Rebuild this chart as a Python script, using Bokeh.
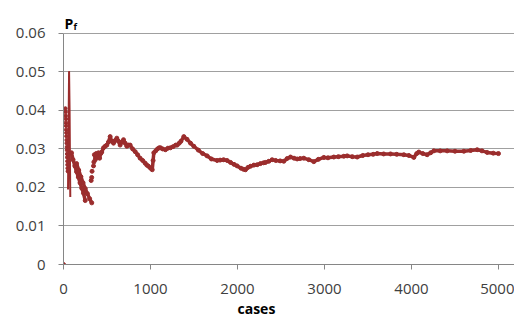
from bokeh.plotting import figure
from bokeh.models import Range1d, FixedTicker, Title, CustomJSTickFormatter
from bokeh.core.properties import value
from bokeh.embed import file_html
from bokeh.resources import INLINE

# ---- data ----
origin_cases = [0]
origin_pf = [0.0]

# early column of dots
col_cases = [22, 24, 25, 27, 28, 30, 31, 33, 34, 36, 37, 39, 40, 42, 43, 45, 46, 48, 50]
col_pf = [0.0405, 0.0396, 0.0386, 0.0378, 0.0368, 0.0360, 0.0350, 0.0342, 0.0333, 0.0323,
          0.0315, 0.0305, 0.0297, 0.0287, 0.0278, 0.0268, 0.0259, 0.0250, 0.0242]

# spike to 0.05
spike_cases = [52, 64, 70, 74, 78]
spike_pf = [0.0195, 0.0502, 0.040, 0.028, 0.0175]

# descending branch B
b_cases = [92, 110, 130, 150, 170, 190, 210, 230, 250]
b_pf = [0.0290, 0.0272, 0.0256, 0.0241, 0.0227, 0.0212, 0.0198, 0.0185, 0.0166]

# descending branch C
c_cases = [150, 175, 200, 225, 250, 275, 300, 325]
c_pf = [0.0262, 0.0245, 0.0228, 0.0212, 0.0197, 0.0184, 0.0171, 0.0160]

# isolated dots after the low point
iso_cases = [318, 324, 328, 345, 349]
iso_pf = [0.0218, 0.0226, 0.0242, 0.0256, 0.0266]

# main running estimate
main_cases = [355, 365, 375, 390, 402, 415, 428, 440, 460, 479, 498, 517, 536, 555, 575,
              594, 613, 632, 651, 670, 690, 709, 728, 747, 766, 795, 824, 852, 881, 910,
              939, 958, 977, 1000, 1020, 1030, 1038, 1060, 1080, 1100, 1115, 1140, 1172,
              1200, 1230, 1260, 1290, 1307, 1330, 1350, 1383, 1420, 1460, 1498, 1550,
              1600, 1651, 1700, 1766, 1800, 1840, 1881, 1920, 1960, 1996, 2040, 2070,
              2092, 2120, 2149, 2188, 2226, 2264, 2300, 2322, 2360, 2398, 2440, 2490,
              2532, 2570, 2609, 2650, 2686, 2720, 2762, 2820, 2877, 2930, 2992, 3040,
              3107, 3160, 3222, 3261, 3320, 3376, 3440, 3500, 3560, 3606, 3680, 3759,
              3830, 3912, 3970, 4027, 4060, 4084, 4130, 4180, 4220, 4257, 4330, 4410,
              4500, 4602, 4680, 4755, 4810, 4870, 4940, 5000]
main_pf = [0.0285, 0.0272, 0.0288, 0.0278, 0.0290, 0.0276, 0.0288, 0.0292, 0.0303, 0.0307,
           0.0310, 0.0318, 0.0332, 0.0320, 0.0315, 0.0322, 0.0328, 0.0320, 0.0310, 0.0318,
           0.0324, 0.0315, 0.0307, 0.0310, 0.0310, 0.0300, 0.0293, 0.0285, 0.0276, 0.0270,
           0.0263, 0.0258, 0.0255, 0.0250, 0.0246, 0.0270, 0.0290, 0.0295, 0.0300, 0.0303,
           0.0303, 0.0300, 0.0298, 0.0302, 0.0303, 0.0306, 0.0310, 0.0310, 0.0315, 0.0320,
           0.0332, 0.0325, 0.0315, 0.0307, 0.0297, 0.0288, 0.0282, 0.0274, 0.0270, 0.0271,
           0.0272, 0.0270, 0.0265, 0.0260, 0.0256, 0.0250, 0.0247, 0.0246, 0.0252, 0.0255,
           0.0258, 0.0259, 0.0262, 0.0264, 0.0265, 0.0268, 0.0272, 0.0270, 0.0269, 0.0268,
           0.0275, 0.0279, 0.0276, 0.0274, 0.0275, 0.0276, 0.0272, 0.0267, 0.0273, 0.0278,
           0.0277, 0.0279, 0.0280, 0.0281, 0.0282, 0.0280, 0.0279, 0.0283, 0.0285, 0.0286,
           0.0288, 0.0287, 0.0287, 0.0286, 0.0285, 0.0283, 0.0278, 0.0288, 0.0292, 0.0288,
           0.0285, 0.0290, 0.0295, 0.0295, 0.0295, 0.0294, 0.0294, 0.0296, 0.0298, 0.0295,
           0.0291, 0.0289, 0.0288]

x_ticks = [0, 1000, 2000, 3000, 4000, 5000]
y_ticks = [0, 0.01, 0.02, 0.03, 0.04, 0.05, 0.06]
y_max = 0.06

RED = "#9b2d2d"
FONT = "Open Sans"
TXT = "#404040"

p = figure(width=514, height=321, output_backend="svg", toolbar_location=None,
           x_range=Range1d(0, 5184), y_range=Range1d(0, 0.06724),
           min_border_left=63, min_border_right=0, min_border_top=5, min_border_bottom=56)
p.outline_line_color = None
p.background_fill_color = "white"

# data marks
p.scatter(origin_cases, origin_pf, size=4, color=RED)
p.scatter(col_cases, col_pf, size=3.5, color=RED)
p.line(spike_cases, spike_pf, line_width=2, color=RED)
p.line(b_cases, b_pf, line_width=3.5, color=RED)
p.scatter(b_cases, b_pf, size=4, color=RED)
p.line(c_cases, c_pf, line_width=3.5, color=RED)
p.scatter(c_cases, c_pf, size=4, color=RED)
p.scatter(iso_cases, iso_pf, size=4, color=RED)
p.line(main_cases, main_pf, line_width=3.5, color=RED)
p.scatter(main_cases, main_pf, size=4, color=RED)

# axes
for ax in (p.xaxis[0], p.yaxis[0]):
    ax.axis_line_color = "#868686"
    ax.axis_line_width = 1
    ax.major_tick_line_color = "#868686"
    ax.major_tick_out = 5
    ax.major_tick_in = 0
    ax.minor_tick_line_color = None
    ax.major_label_text_font = FONT
    ax.major_label_text_font_size = "15px"
    ax.major_label_text_color = TXT

p.xaxis.ticker = FixedTicker(ticks=x_ticks)
p.xaxis.major_label_standoff = 14
p.yaxis.ticker = FixedTicker(ticks=y_ticks)
p.yaxis.bounds = (0, y_max)
p.yaxis.major_label_standoff = 13
p.yaxis.formatter = CustomJSTickFormatter(code="return tick == 0 ? '0' : tick.toFixed(2);")

p.xgrid.visible = False
p.ygrid.ticker = FixedTicker(ticks=y_ticks)
p.ygrid.grid_line_color = "#a0a0a0"
p.ygrid.grid_line_width = 1

# y title "P" with subscript "f" above the axis
p.text(x=[0], y=[y_max], text=["P"], x_offset=1, y_offset=-10,
       text_font=value(FONT), text_font_style="bold", text_font_size=value("14px"),
       text_color="black", text_align="left", text_baseline="alphabetic")
p.text(x=[0], y=[y_max], text=["f"], x_offset=10, y_offset=-7,
       text_font=value(FONT), text_font_style="bold", text_font_size=value("9px"),
       text_color="black", text_align="left", text_baseline="alphabetic")

# x title
p.add_layout(Title(text="cases", align="left", offset=174, vertical_align="top", standoff=4,
                   text_font=FONT, text_font_style="bold", text_font_size="14px",
                   text_color="black"), "below")

open("out.html", "w").write(file_html(p, INLINE))
